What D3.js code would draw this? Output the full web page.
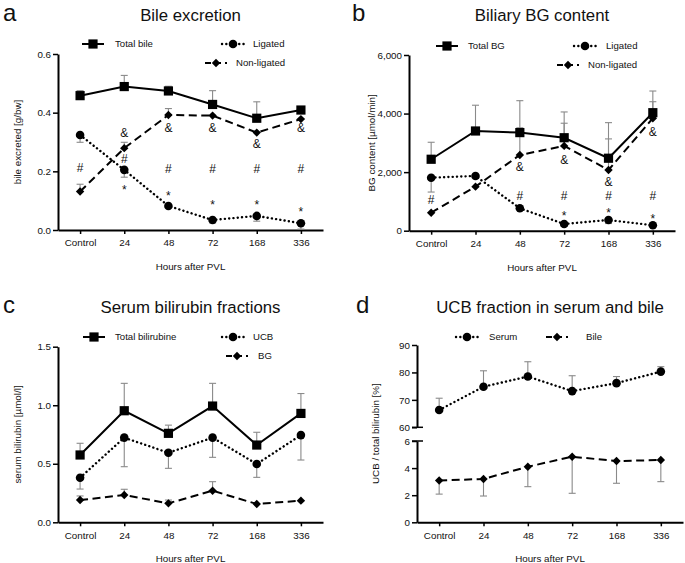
<!DOCTYPE html>
<html>
<head>
<meta charset="utf-8">
<script src="https://cdn.jsdelivr.net/npm/d3@7"></script>
<style>
  body { margin: 0; background: #fff; }
  svg text { font-family: "Liberation Sans", Arial, Helvetica, sans-serif; fill: #111; }
</style>
</head>
<body>
<script>
'use strict';

// ---- data ----
var categories = ["Control", "24", "48", "72", "168", "336"];

// a: bile excretion [g/bw]
var bileTotal = [0.458, 0.489, 0.474, 0.428, 0.381, 0.409];
var bileTotalErr = [0.017, 0.038, 0.016, 0.047, 0.056, 0.008];
var bileLigated = [0.324, 0.205, 0.082, 0.034, 0.048, 0.023];
var bileLigatedErr = [0.025, 0.025, 0.006, 0.01, 0.018, 0.02];
var bileNonLigated = [0.131, 0.279, 0.392, 0.39, 0.332, 0.378];
var bileNonLigatedErr = [0.025, 0.02, 0.022, 0, 0, 0];
var bileMarks = [
  ["Control", "#", 0.211],
  ["24", "&", 0.331], ["24", "#", 0.242], ["24", "*", 0.147],
  ["48", "&", 0.348], ["48", "#", 0.208], ["48", "*", 0.126],
  ["72", "&", 0.348], ["72", "#", 0.208], ["72", "*", 0.095],
  ["168", "&", 0.293], ["168", "#", 0.208], ["168", "*", 0.095],
  ["336", "&", 0.348], ["336", "#", 0.208], ["336", "*", 0.072]
];

// b: biliary BG content [umol/min]
var bgTotal = [2440, 3405, 3350, 3175, 2475, 4030];
var bgTotalErr = [580, 880, 1090, 880, 1215, 740];
var bgLigated = [1810, 1870, 765, 230, 365, 185];
var bgLigatedErr = [490, 0, 0, 80, 120, 0];
var bgNonLigated = [615, 1505, 2585, 2895, 2075, 3840];
var bgNonLigatedErr = [0, 0, 930, 775, 1060, 565];
var bgMarks = [
  ["Control", "#", 1050],
  ["48", "&", 2185], ["48", "#", 1185],
  ["72", "&", 2415], ["72", "#", 1185], ["72", "*", 600],
  ["168", "&", 1673], ["168", "#", 1185], ["168", "*", 700],
  ["336", "&", 3380], ["336", "#", 1185], ["336", "*", 500]
];

// c: serum bilirubin fractions [umol/l]
var serumTotal = [0.575, 0.953, 0.76, 0.993, 0.66, 0.93];
var serumTotalErr = [0.10, 0.234, 0.07, 0.194, 0.109, 0.17];
var serumUcb = [0.381, 0.723, 0.594, 0.723, 0.498, 0.745];
var serumUcbErr = [0.097, 0.248, 0.133, 0.168, 0.114, 0.213];
var serumBg = [0.19, 0.233, 0.162, 0.27, 0.156, 0.185];
var serumBgErr = [0.035, 0.049, 0.028, 0.077, 0, 0];

// d: UCB fraction [%]
var ucbSerum = [66.3, 74.8, 78.5, 73.2, 76.1, 80.3];
var ucbSerumErr = [4.3, 5.8, 5.4, 5.6, 2.4, 1.8];
var ucbBile = [3.08, 3.2, 4.1, 4.84, 4.52, 4.6];
var ucbBileErr = [1.0, 1.26, 1.47, 2.7, 1.64, 1.6];

var aTicks = [0, 0.2, 0.4, 0.6];
var bTicks = [0, 2000, 4000, 6000];
var cTicks = [0, 0.5, 1.0, 1.5];
var dTicksUpper = [60, 70, 80, 90];
var dTicksLower = [0, 2, 4, 6];

// ---- drawing ----
var svg = d3.select("body").append("svg").attr("width", 685).attr("height", 563);

var dashes = { solid: null, dotted: "0.1 4.2", dashed: "8 4.5" };

function marker(g, shape, cx, cy) {
  if (shape === "square") {
    g.append("rect").attr("x", cx - 4.6).attr("y", cy - 4.6).attr("width", 9.2).attr("height", 9.2).attr("fill", "#000");
  } else if (shape === "circle") {
    g.append("circle").attr("cx", cx).attr("cy", cy).attr("r", 4.3).attr("fill", "#000");
  } else {
    var r = 4.2;
    g.append("path").attr("d", "M" + cx + "," + (cy - r) + "L" + (cx + r) + "," + cy + "L" + cx + "," + (cy + r) + "L" + (cx - r) + "," + cy + "Z").attr("fill", "#000");
  }
}

function styleLine(sel, style) {
  sel.attr("fill", "none").attr("stroke", "#000").attr("stroke-width", style === "dotted" ? 2.4 : 2)
    .attr("stroke-linecap", style === "dotted" ? "round" : "butt")
    .attr("stroke-dasharray", dashes[style]);
  return sel;
}

function drawSeries(g, x, y, s) {
  var pts = categories.map(function (c, i) { return { c: c, v: s.values[i], e: s.err[i] }; });
  // error bars
  var eb = g.append("g").attr("stroke", "#8a8a8a").attr("stroke-width", 1.1);
  pts.forEach(function (d) {
    if (!d.e) return;
    var end = y(d.v + s.dir * d.e);
    eb.append("line").attr("x1", x(d.c)).attr("x2", x(d.c)).attr("y1", y(d.v)).attr("y2", end);
    eb.append("line").attr("x1", x(d.c) - 3.5).attr("x2", x(d.c) + 3.5).attr("y1", end).attr("y2", end);
  });
  return pts;
}

function drawSeriesTop(g, x, y, s, pts) {
  var line = d3.line().x(function (d) { return x(d.c); }).y(function (d) { return y(d.v); });
  styleLine(g.append("path").datum(pts).attr("d", line), s.style);
  pts.forEach(function (d) { marker(g, s.shape, x(d.c), y(d.v)); });
}

function legendItem(g, s, mx, my) {
  var ln = styleLine(g.append("line").attr("x1", mx - 11).attr("x2", mx + 11).attr("y1", my).attr("y2", my), s.style);
  if (s.style === "dashed") ln.attr("stroke-dasharray", "6 4");
  marker(g, s.shape, mx, my);
  g.append("text").attr("x", mx + s.lx).attr("y", my + 3.4).attr("font-size", 9.6).text(s.name);
}

function styleAxis(ax) {
  ax.select(".domain").attr("stroke", "#000").attr("stroke-width", 2);
  ax.selectAll(".tick line").attr("stroke", "#000").attr("stroke-width", 1.5);
  ax.selectAll(".tick text").attr("font-size", 9.8).attr("fill", "#222").attr("font-family", "Liberation Sans, Arial, sans-serif");
}

function drawFrame(p, x) {
  var g = svg.append("g");
  g.append("text").attr("x", p.letterX).attr("y", p.titleY).attr("font-size", 24).text(p.letter);
  g.append("text").attr("x", (p.left + p.right) / 2).attr("y", p.titleY).attr("text-anchor", "middle")
    .attr("font-size", 16.8).text(p.title);
  var xa = g.append("g").attr("transform", "translate(0," + p.bottom + ")")
    .call(d3.axisBottom(x).tickSize(4).tickSizeOuter(0).tickPadding(5));
  styleAxis(xa);
  xa.selectAll(".tick text").attr("dy", "0.75em");
  g.append("text").attr("x", (p.left + p.right) / 2).attr("y", p.bottom + 40).attr("text-anchor", "middle")
    .attr("font-size", 9.8).text("Hours after PVL");
  g.append("text").attr("transform", "translate(" + p.yLabelX + "," + ((p.top + p.bottom) / 2) + ") rotate(-90)")
    .attr("text-anchor", "middle").attr("font-size", 9.8).text(p.yLabel);
  return g;
}

function drawMarks(g, x, y, marks) {
  marks.forEach(function (m) {
    g.append("text").attr("x", x(m[0])).attr("y", y(m[2])).attr("text-anchor", "middle")
      .attr("dy", m[1] === "*" ? "0.6em" : "0.36em").attr("font-size", 12).attr("fill", "#000").text(m[1]);
  });
}

function drawPanel(p) {
  var x = d3.scalePoint().domain(categories).range([p.left, p.right]).padding(0.5);
  var y = d3.scaleLinear().domain([p.ticks[0], p.ticks[p.ticks.length - 1]]).range([p.bottom, p.top]);
  var g = drawFrame(p, x);
  var ya = g.append("g").attr("transform", "translate(" + p.left + ",0)")
    .call(d3.axisLeft(y).tickValues(p.ticks).tickFormat(d3.format(p.fmt)).tickSize(5).tickSizeOuter(0).tickPadding(2));
  styleAxis(ya);
  var all = p.series.map(function (s) { return drawSeries(g, x, y, s); });
  p.series.forEach(function (s, i) { drawSeriesTop(g, x, y, s, all[i]); });
  if (p.marks) drawMarks(g, x, y, p.marks);
  p.series.forEach(function (s) { legendItem(g, s, p.left + s.legend[0], p.top + s.legend[1]); });
}

drawPanel({
  letter: "a", letterX: 3, title: "Bile excretion", titleY: 21,
  left: 58, right: 323, top: 54, bottom: 230, yLabelX: 21,
  yLabel: "bile excreted [g/bw]", ticks: aTicks, fmt: ".1f", marks: bileMarks,
  series: [
    { name: "Total bile", values: bileTotal, err: bileTotalErr, dir: 1, style: "solid", shape: "square", legend: [35, -10], lx: 22 },
    { name: "Ligated", values: bileLigated, err: bileLigatedErr, dir: -1, style: "dotted", shape: "circle", legend: [175, -10], lx: 20 },
    { name: "Non-ligated", values: bileNonLigated, err: bileNonLigatedErr, dir: 1, style: "dashed", shape: "diamond", legend: [158, 9], lx: 20 }
  ]
});

drawPanel({
  letter: "b", letterX: 352, title: "Biliary BG content", titleY: 21,
  left: 409, right: 675, top: 55, bottom: 230.7, yLabelX: 375,
  yLabel: "BG content [\u00b5mol/min]", ticks: bTicks, fmt: ",", marks: bgMarks,
  series: [
    { name: "Total BG", values: bgTotal, err: bgTotalErr, dir: 1, style: "solid", shape: "square", legend: [38, -9], lx: 21 },
    { name: "Ligated", values: bgLigated, err: bgLigatedErr, dir: -1, style: "dotted", shape: "circle", legend: [176, -9], lx: 21 },
    { name: "Non-ligated", values: bgNonLigated, err: bgNonLigatedErr, dir: 1, style: "dashed", shape: "diamond", legend: [159, 10], lx: 20 }
  ]
});

drawPanel({
  letter: "c", letterX: 3, title: "Serum bilirubin fractions", titleY: 313,
  left: 58, right: 323, top: 346.7, bottom: 522.3, yLabelX: 21,
  yLabel: "serum bilirubin [\u00b5mol/l]", ticks: cTicks, fmt: ".1f",
  series: [
    { name: "Total bilirubine", values: serumTotal, err: serumTotalErr, dir: 1, style: "solid", shape: "square", legend: [36, -9.7], lx: 21 },
    { name: "UCB", values: serumUcb, err: serumUcbErr, dir: -1, style: "dotted", shape: "circle", legend: [175, -9.7], lx: 20 },
    { name: "BG", values: serumBg, err: serumBgErr, dir: 1, style: "dashed", shape: "diamond", legend: [179, 9.3], lx: 21 }
  ]
});

// d: broken y axis
(function () {
  var p = {
    letter: "d", letterX: 356, title: "UCB fraction in serum and bile", titleY: 313,
    left: 417, right: 683, top: 345, bottom: 522.3, yLabelX: 379,
    yLabel: "UCB / total bilirubin [%]"
  };
  var upperBottom = 427.3, lowerTop = 441;
  var x = d3.scalePoint().domain(categories).range([p.left, p.right]).padding(0.5);
  var yU = d3.scaleLinear().domain([60, 90]).range([upperBottom, p.top]);
  var yL = d3.scaleLinear().domain([0, 6]).range([p.bottom, lowerTop]);
  var g = drawFrame(p, x);
  [[yU, dTicksUpper], [yL, dTicksLower]].forEach(function (a) {
    var ax = g.append("g").attr("transform", "translate(" + p.left + ",0)")
      .call(d3.axisLeft(a[0]).tickValues(a[1]).tickFormat(d3.format("d")).tickSize(5).tickSizeOuter(0).tickPadding(2));
    styleAxis(ax);
  });
  // break caps
  [upperBottom, lowerTop].forEach(function (yy) {
    g.append("line").attr("x1", p.left - 5).attr("x2", p.left + 6).attr("y1", yy).attr("y2", yy)
      .attr("stroke", "#000").attr("stroke-width", 1.5);
  });
  var serum = { name: "Serum", values: ucbSerum, err: ucbSerumErr, dir: 1, style: "dotted", shape: "circle", lx: 22 };
  var bile = { name: "Bile", values: ucbBile, err: ucbBileErr, dir: -1, style: "dashed", shape: "diamond", lx: 29 };
  var ps = drawSeries(g, x, yU, serum);
  var pb = drawSeries(g, x, yL, bile);
  drawSeriesTop(g, x, yU, serum, ps);
  drawSeriesTop(g, x, yL, bile, pb);
  legendItem(g, serum, p.left + 50, p.top - 8);
  legendItem(g, bile, p.left + 140, p.top - 8);
})();
</script>
</body>
</html>
